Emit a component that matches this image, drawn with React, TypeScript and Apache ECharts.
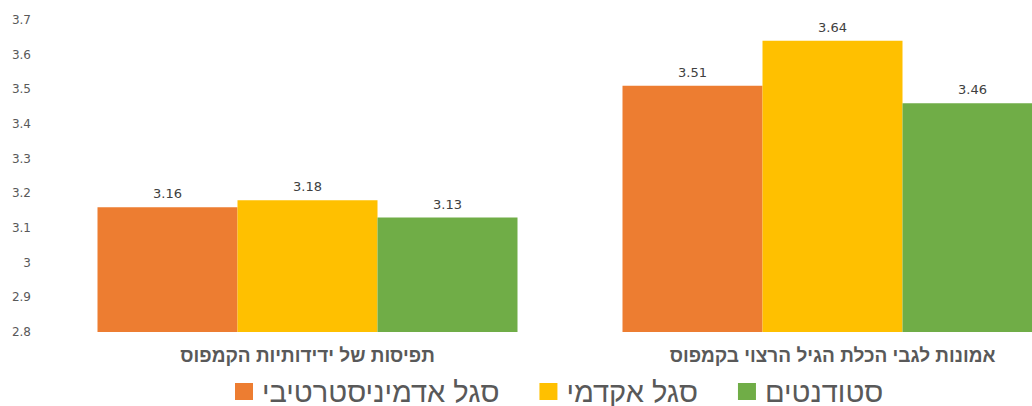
import React, { useEffect, useRef } from "react";
import * as echarts from "echarts";

const categories = ["תפיסות של ידידותיות הקמפוס", "אמונות לגבי הכלת הגיל הרצוי בקמפוס"];
const seriesNames = ["סגל אדמיניסטרטיבי", "סגל אקדמי", "סטודנטים"];
const adminValues = [3.16, 3.51];
const academicValues = [3.18, 3.64];
const studentValues = [3.13, 3.46];
const colors = ["#ED7D31", "#FFC000", "#70AD47"];

export default function App() {
  const ref = useRef<HTMLDivElement>(null);
  useEffect(() => {
    if (!ref.current) return;
    const chart = echarts.init(ref.current, null, { renderer: "svg" });
    const values = [adminValues, academicValues, studentValues];
    chart.setOption({
      animation: false,
      backgroundColor: "#ffffff",
      grid: { left: 45, right: 0, top: 20, bottom: 74 },
      legend: {
        left: 230,
        top: 372,
        itemWidth: 18,
        itemHeight: 17,
        itemGap: 40,
        icon: "rect",
        data: seriesNames,
        textStyle: {
          fontFamily: "Liberation Sans, Arial, sans-serif",
          fontSize: 29,
          color: "#595959",
          padding: [0, 0, 10, 4],
        },
      },
      xAxis: {
        type: "category",
        data: categories,
        axisLine: { show: false },
        axisTick: { show: false },
        axisLabel: {
          margin: 14,
          fontFamily: "Liberation Sans, Arial, sans-serif",
          fontWeight: "bold",
          fontSize: 19,
          color: "#595959",
        },
      },
      yAxis: {
        type: "value",
        min: 2.8,
        max: 3.7,
        interval: 0.1,
        splitLine: { show: false },
        axisLine: { show: false },
        axisTick: { show: false },
        axisLabel: {
          margin: 14,
          fontFamily: "DejaVu Sans, sans-serif",
          fontSize: 12,
          color: "#595959",
          formatter: (v: number) => String(Math.round(v * 10) / 10),
        },
      },
      series: seriesNames.map((name, i) => ({
        name,
        type: "bar",
        data: values[i],
        barWidth: 140,
        barGap: "0%",
        itemStyle: { color: colors[i] },
        label: {
          show: true,
          position: "top",
          distance: 7,
          fontFamily: "DejaVu Sans, sans-serif",
          fontSize: 13,
          color: "#404040",
          formatter: (p: any) => p.value.toFixed(2),
        },
      })),
    });
    return () => chart.dispose();
  }, []);
  return (
    <div
      style={{
        position: "absolute",
        left: 0,
        top: 0,
        width: 1032,
        height: 406,
        overflow: "hidden",
        background: "#ffffff",
      }}
    >
      <div ref={ref} style={{ width: 1095, height: 406 }} />
    </div>
  );
}
